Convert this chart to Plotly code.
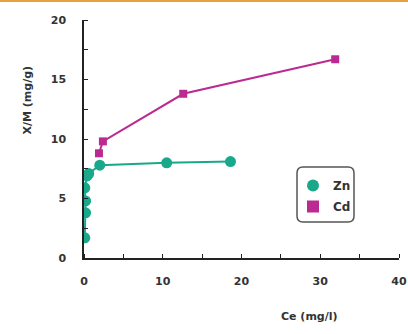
import plotly.graph_objects as go

zn_x = [0.1, 0.2, 0.2, 0.1, 0.4, 0.6, 2.0, 10.5, 18.6]
zn_y = [1.7, 3.8, 4.8, 5.9, 6.9, 7.1, 7.8, 8.0, 8.1]
cd_x = [1.9, 2.4, 12.6, 31.9]
cd_y = [8.8, 9.8, 13.8, 16.7]

x_ticks = [0, 10, 20, 30, 40]
y_ticks = [0, 5, 10, 15, 20]

teal = "#1aa88b"
mag = "#bb2a91"
tickfont = dict(family="DejaVu Sans", size=11, color="#333333")

fig = go.Figure()
fig.add_trace(go.Scatter(x=zn_x, y=zn_y, mode="lines", showlegend=False,
                         line=dict(color=teal, width=2), hoverinfo="skip"))
fig.add_trace(go.Scatter(x=cd_x, y=cd_y, mode="lines", showlegend=False,
                         line=dict(color=mag, width=2), hoverinfo="skip"))
fig.add_trace(go.Scatter(x=zn_x, y=zn_y, name="<b>Zn</b>", mode="markers", legendgroup="a",
                         marker=dict(symbol="circle", size=11, color=teal)))
fig.add_trace(go.Scatter(x=cd_x, y=cd_y, name="<b>Cd</b>", mode="markers", legendgroup="b",
                         marker=dict(symbol="square", size=8, color=mag)))

L, R = 84, 9
W, H = 408 - L - R, 238
fig.update_layout(
    width=408, height=334,
    margin=dict(l=L, r=R, t=20, b=76),
    paper_bgcolor="white", plot_bgcolor="white",
    showlegend=True,
    legend=dict(x=(293-L)/W, y=(258-171)/H, xanchor="left", yanchor="top",
                borderwidth=0, bgcolor="rgba(0,0,0,0)",
                font=dict(family="DejaVu Sans", size=12, color="#333333"),
                itemsizing="constant", tracegroupgap=2, itemwidth=30),
    xaxis=dict(range=[0, 40], tickvals=x_ticks, ticktext=[f"<b>{v}</b>" for v in x_ticks],
               showgrid=False, zeroline=False, showline=True, linecolor="#222222",
               linewidth=1.5, ticks="", tickfont=tickfont, ticklabelstandoff=12,
               automargin=False, ticklabeloverflow="allow"),
    yaxis=dict(range=[0, 20], tickvals=y_ticks, ticktext=[f"<b>{v}</b>" for v in y_ticks],
               showgrid=False, zeroline=False, showline=True, linecolor="#222222",
               linewidth=1.5, ticks="", tickfont=tickfont, ticklabelstandoff=14,
               automargin=False),
    font=dict(family="DejaVu Sans"),
)
fig.update_xaxes(minor=dict(dtick=5, ticks="inside", ticklen=4, tickcolor="#222222", tickwidth=1.2, showgrid=False))
fig.update_yaxes(minor=dict(dtick=2.5, ticks="inside", ticklen=4, tickcolor="#222222", tickwidth=1.2, showgrid=False))

fig.add_annotation(text="<b>X/M (mg/g)</b>", xref="paper", yref="paper",
                   x=-66/W, y=(258-100)/H, textangle=-90, showarrow=False,
                   font=dict(family="DejaVu Sans", size=11, color="#333333"))
fig.add_annotation(text="<b>Ce (mg/l)</b>", xref="paper", yref="paper",
                   x=(340-L)/W, y=-(325-258)/H, showarrow=False,
                   font=dict(family="DejaVu Sans", size=11, color="#333333"))
fig.add_shape(type="line", xref="paper", yref="paper",
              x0=-L/W, x1=1+R/W, y0=1+19/H, y1=1+19/H,
              line=dict(color="#e8a040", width=2))

# rounded legend box
x0, x1, y0, y1, r = 297, 354, 167, 222, 6
def px(x):
    return (x - L) / W
def py(y):
    return (258 - y) / H
path = (f"M {px(x0+r)},{py(y0)} L {px(x1-r)},{py(y0)} Q {px(x1)},{py(y0)} {px(x1)},{py(y0+r)} "
        f"L {px(x1)},{py(y1-r)} Q {px(x1)},{py(y1)} {px(x1-r)},{py(y1)} "
        f"L {px(x0+r)},{py(y1)} Q {px(x0)},{py(y1)} {px(x0)},{py(y1-r)} "
        f"L {px(x0)},{py(y0+r)} Q {px(x0)},{py(y0)} {px(x0+r)},{py(y0)} Z")
fig.add_shape(type="path", xref="paper", yref="paper", path=path,
              line=dict(color="#555555", width=1.5), layer="above")

fig.write_html("out.html", config={"displayModeBar": False},
               post_script="document.body.style.margin='0';document.body.style.overflow='hidden';")
